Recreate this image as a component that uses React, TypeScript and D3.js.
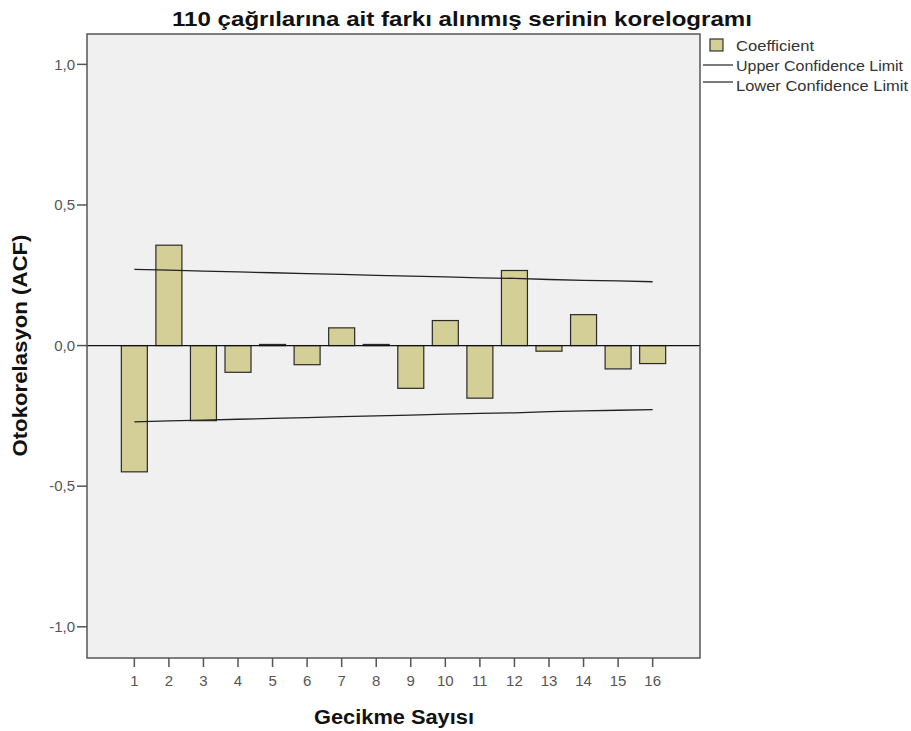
import React from "react";
import * as d3 from "d3";

// lag numbers and autocorrelation coefficients
const lags = [1, 2, 3, 4, 5, 6, 7, 8, 9, 10, 11, 12, 13, 14, 15, 16];
const coefficients = [
  -0.449, 0.357, -0.267, -0.095, 0.004, -0.068, 0.063, 0.004, -0.152, 0.089,
  -0.187, 0.267, -0.02, 0.11, -0.083, -0.064,
];
const upperLimit = [
  0.271, 0.268, 0.265, 0.262, 0.259, 0.256, 0.253, 0.25, 0.247, 0.244, 0.241,
  0.239, 0.235, 0.232, 0.23, 0.227,
];
const lowerLimit = [
  -0.271, -0.268, -0.265, -0.262, -0.259, -0.256, -0.253, -0.25, -0.247,
  -0.244, -0.241, -0.239, -0.235, -0.232, -0.23, -0.228,
];
const yTicks = [1, 0.5, 0, -0.5, -1];
const yTickLabels = ["1,0", "0,5", "0,0", "-0,5", "-1,0"];
const legendItems = ["Coefficient", "Upper Confidence Limit", "Lower Confidence Limit"];

const title = "110 çağrılarına ait farkı alınmış serinin korelogramı";
const xTitle = "Gecikme Sayısı";
const yTitle = "Otokorelasyon (ACF)";

export default function App() {
  const width = 911;
  const height = 731;
  const plot = { left: 87, right: 700, top: 34, bottom: 658 };
  const font = "'Liberation Sans', Arial, sans-serif";

  const x = d3.scaleLinear().domain([-0.37, 17.37]).range([plot.left, plot.right]);
  const y = d3.scaleLinear().domain([-1.111, 1.108]).range([plot.bottom, plot.top]);
  const barW = 26;

  const upperLine = d3
    .line<number>()
    .x((_, i) => x(lags[i]))
    .y((d) => y(d))(upperLimit);
  const lowerLine = d3
    .line<number>()
    .x((_, i) => x(lags[i]))
    .y((d) => y(d))(lowerLimit);

  return (
    <svg
      width={width}
      height={height}
      style={{ position: "absolute", left: 0, top: 0, background: "#fff" }}
      fontFamily={font}
    >
      <text
        x={462}
        y={26}
        textAnchor="middle"
        fontSize={21}
        fontWeight="bold"
        fill="#111"
        textLength={580}
        lengthAdjust="spacingAndGlyphs"
      >
        {title}
      </text>

      <rect
        x={plot.left}
        y={plot.top}
        width={plot.right - plot.left}
        height={plot.bottom - plot.top}
        fill="#f0f0f0"
      />

      {coefficients.map((v, i) => (
        <rect
          key={i}
          x={x(lags[i]) - barW / 2}
          y={Math.min(y(v), y(0))}
          width={barW}
          height={Math.abs(y(v) - y(0))}
          fill="#d3cf96"
          stroke="#2a2a2a"
          strokeWidth={1.2}
        />
      ))}

      <line x1={plot.left} x2={plot.right} y1={y(0)} y2={y(0)} stroke="#111" strokeWidth={1.3} />
      <path d={upperLine ?? ""} fill="none" stroke="#222" strokeWidth={1.3} />
      <path d={lowerLine ?? ""} fill="none" stroke="#222" strokeWidth={1.3} />

      <rect
        x={plot.left}
        y={plot.top}
        width={plot.right - plot.left}
        height={plot.bottom - plot.top}
        fill="none"
        stroke="#555"
        strokeWidth={1.5}
      />

      {yTicks.map((t, i) => (
        <g key={t}>
          <line x1={plot.left - 10} x2={plot.left} y1={y(t)} y2={y(t)} stroke="#555" strokeWidth={1.5} />
          <text x={plot.left - 12} y={y(t)} dy="0.35em" textAnchor="end" fontSize={15} fill="#555">
            {yTickLabels[i]}
          </text>
        </g>
      ))}

      {lags.map((l) => (
        <g key={l}>
          <line x1={x(l)} x2={x(l)} y1={plot.bottom} y2={plot.bottom + 9} stroke="#555" strokeWidth={1.5} />
          <text x={x(l)} y={plot.bottom + 28} textAnchor="middle" fontSize={15} fill="#555">
            {l}
          </text>
        </g>
      ))}

      <text
        x={394}
        y={724}
        textAnchor="middle"
        fontSize={20}
        fontWeight="bold"
        fill="#111"
        textLength={160}
        lengthAdjust="spacingAndGlyphs"
      >
        {xTitle}
      </text>
      <text
        transform={`translate(27, ${y(0)}) rotate(-90)`}
        textAnchor="middle"
        fontSize={20}
        fontWeight="bold"
        fill="#111"
        textLength={222}
        lengthAdjust="spacingAndGlyphs"
      >
        {yTitle}
      </text>

      <g fontSize={14.5} fill="#333">
        <rect x={710} y={39} width={13} height={12} fill="#d3cf96" stroke="#333" strokeWidth={1.2} />
        <text x={736} y={46} dy="0.35em" textLength={78} lengthAdjust="spacingAndGlyphs">
          {legendItems[0]}
        </text>
        <line x1={703} x2={733} y1={65} y2={65} stroke="#333" strokeWidth={1.3} />
        <text x={736} y={66} dy="0.35em" textLength={167} lengthAdjust="spacingAndGlyphs">
          {legendItems[1]}
        </text>
        <line x1={703} x2={733} y1={82} y2={82} stroke="#333" strokeWidth={1.3} />
        <text x={736} y={86} dy="0.35em" textLength={172} lengthAdjust="spacingAndGlyphs">
          {legendItems[2]}
        </text>
      </g>
    </svg>
  );
}
